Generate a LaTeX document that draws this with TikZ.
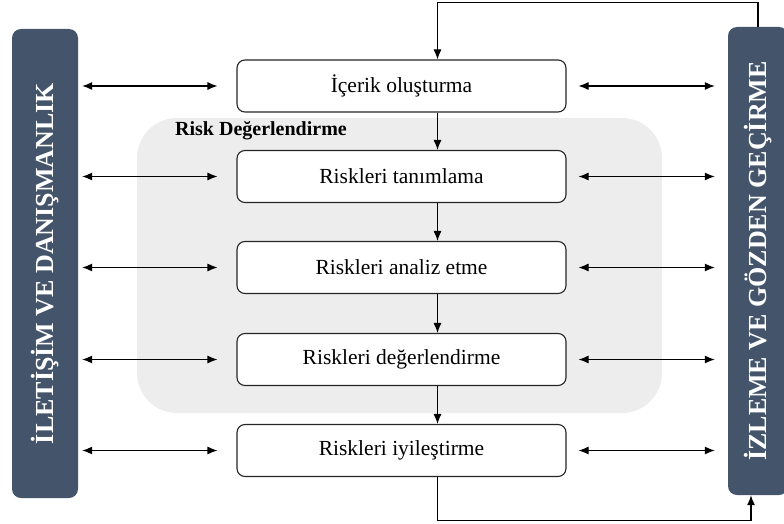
\documentclass[tikz,border=0pt]{standalone}
\usepackage{fontspec}
\setmainfont{Liberation Serif}
\usetikzlibrary{arrows.meta}
\definecolor{barblue}{HTML}{44546A}
\definecolor{zone}{HTML}{EDEDED}
\tikzset{
  >={Latex[length=10pt,width=8pt]},
}
\tikzstyle{process}=[draw=black!85,line width=1.1pt,rounded corners=8pt,fill=white,minimum width=329pt,minimum height=52pt,font=\fontsize{21.5}{24}\selectfont]
\tikzstyle{sidebar}=[fill=barblue,rounded corners=9pt,rotate=90,text=white,font=\bfseries\fontsize{26}{30}\selectfont]
\tikzstyle{leftlink}=[line width=1.1pt,<->,shorten <=4pt,shorten >=19pt]
\tikzstyle{rightlink}=[line width=1.1pt,<->,shorten <=12pt,shorten >=13pt]
\tikzstyle{flow}=[line width=1.1pt,->]

\begin{document}
\begin{tikzpicture}[x=1pt,y=-1pt]
  \useasboundingbox (0,0) rectangle (784,524);
  % risk assessment zone
  \fill[zone,rounded corners=40pt] (137,118) rectangle (662,413);
  \node[font=\bfseries\fontsize{20}{22}\selectfont,anchor=west,inner sep=0pt] (zonelabel) at (175,131) {Risk Değerlendirme};

  \node[sidebar,minimum width=469pt,minimum height=66pt] (iletisim) at (45,263.5) {İLETİŞİM VE DANIŞMANLIK};
  \node[sidebar,minimum width=468pt,minimum height=60pt] (izleme) at (758,261) {İZLEME VE GÖZDEN GEÇİRME};

  \node[process] (icerik) at (401.5,86) {İçerik oluşturma};
  \node[process] (tanim) at (401.5,176.5) {Riskleri tanımlama};
  \node[process] (analiz) at (401.5,267.5) {Riskleri analiz etme};
  \node[process] (deger) at (401.5,359.5) {Riskleri değerlendirme};
  \node[process] (iyiles) at (401.5,450.5) {Riskleri iyileştirme};

  \foreach \n in {icerik,tanim,analiz,deger,iyiles} {
    \draw[leftlink] (\n.west -| iletisim.south) -- (\n.west);
    \draw[rightlink] (\n.east) -- (\n.east -| izleme.north);
  }
  \foreach \a/\b in {icerik/tanim,tanim/analiz,analiz/deger,deger/iyiles}
    \draw[flow] ([xshift=36pt]\a.south) -- ([xshift=36pt]\b.north);

  % feedback loop
  \draw[flow] (izleme.east) -- ++(0,-24) -| ([xshift=36pt]icerik.north);
  \draw[flow] ([xshift=36pt]iyiles.south) -- ++(0,43) -| ([xshift=-7pt]izleme.west);
\end{tikzpicture}
\end{document}
